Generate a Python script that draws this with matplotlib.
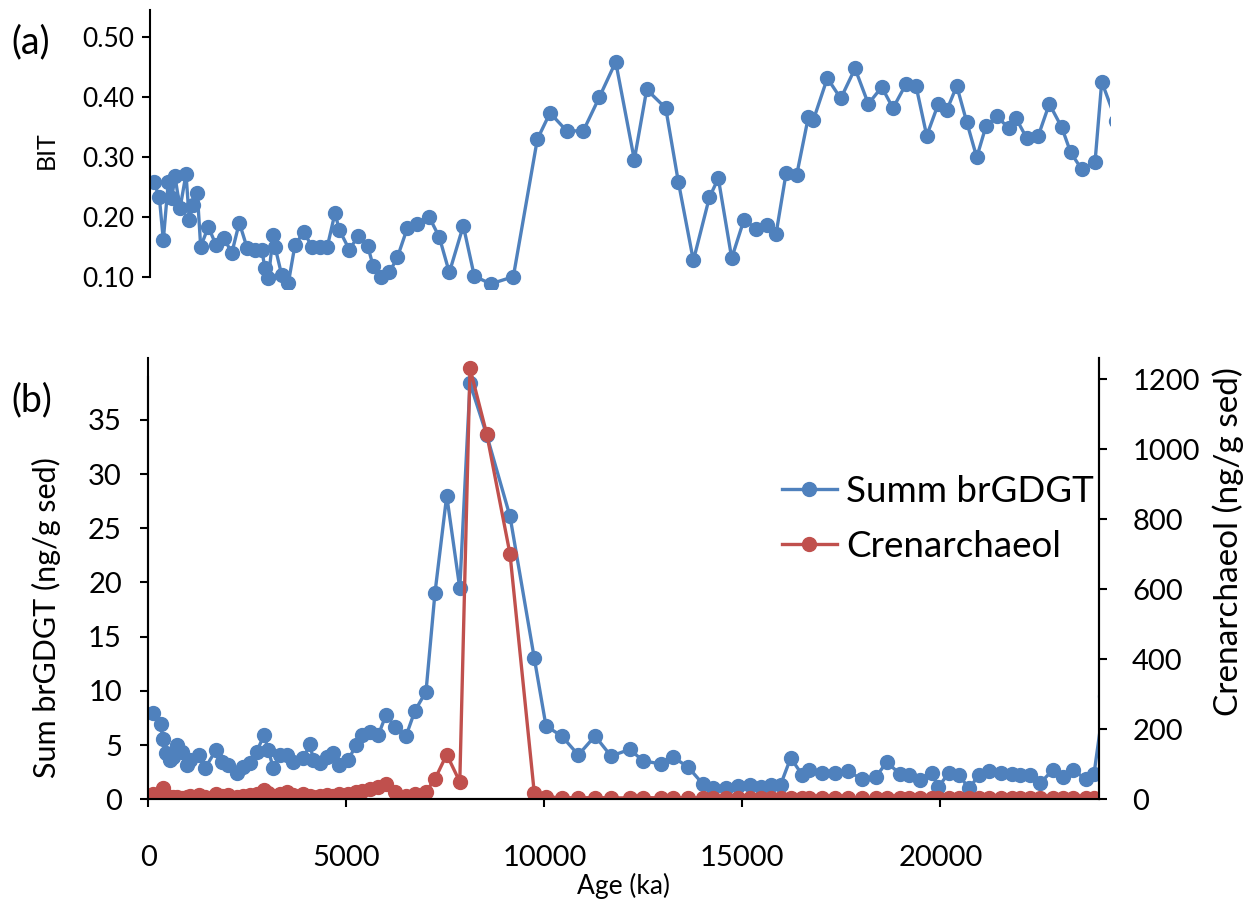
import matplotlib
matplotlib.use('Agg')
import matplotlib.pyplot as plt

plt.rcParams.update({
    'font.family': ['Lato', 'DejaVu Sans'],
    'axes.linewidth': 1.5,
    'xtick.major.width': 1.5,
    'ytick.major.width': 1.5,
    'xtick.major.size': 6,
    'ytick.major.size': 6,
})

BLUE = '#4F81BD'
RED = '#C0504D'

# (a) BIT
bit_age = [101, 235, 336, 462, 548, 631, 758, 909, 992, 1093, 1194, 1280, 1472, 1667,
           1876, 2063, 2255, 2457, 2651, 2820, 2904, 2987, 3113, 3156, 3325, 3492, 3661,
           3889, 4083, 4293, 4477, 4671, 4780, 5033, 5260, 5497, 5639, 5826, 6043, 6245,
           6497, 6750, 7053, 7305, 7558, 7911, 8189, 8603, 9174, 9780, 10100, 10522,
           10941, 11345, 11759, 12229, 12542, 13022, 13341, 13720, 14124, 14350, 14688,
           14999, 15302, 15572, 15807, 16060, 16330, 16623, 16749, 17103, 17441, 17802,
           18138, 18476, 18761, 19089, 19342, 19612, 19905, 20117, 20370, 20622, 20875,
           21109, 21380, 21698, 21867, 22137, 22430, 22708, 23021, 23248, 23526, 23862,
           24031, 24400]
bit = [0.258, 0.234, 0.162, 0.259, 0.232, 0.268, 0.215, 0.272, 0.196, 0.221, 0.241,
       0.151, 0.184, 0.154, 0.165, 0.140, 0.191, 0.148, 0.146, 0.146, 0.115, 0.098,
       0.171, 0.151, 0.104, 0.090, 0.154, 0.176, 0.151, 0.151, 0.151, 0.207, 0.179,
       0.146, 0.169, 0.152, 0.118, 0.100, 0.108, 0.133, 0.182, 0.189, 0.200, 0.167,
       0.108, 0.186, 0.102, 0.089, 0.101, 0.330, 0.374, 0.344, 0.344, 0.400, 0.459,
       0.296, 0.413, 0.382, 0.259, 0.128, 0.233, 0.265, 0.132, 0.196, 0.181, 0.187,
       0.172, 0.273, 0.271, 0.367, 0.362, 0.432, 0.398, 0.448, 0.389, 0.417, 0.382,
       0.422, 0.419, 0.336, 0.389, 0.378, 0.419, 0.359, 0.300, 0.352, 0.368, 0.348,
       0.365, 0.332, 0.336, 0.389, 0.350, 0.308, 0.280, 0.292, 0.426, 0.360]

# (b) concentrations
age = [126, 313, 364, 447, 548, 631, 717, 843, 970, 1053, 1288, 1432, 1709, 1853, 2020,
       2232, 2399, 2568, 2737, 2922, 3030, 3156, 3325, 3495, 3661, 3914, 4083, 4166,
       4335, 4505, 4656, 4823, 5050, 5244, 5388, 5598, 5808, 6002, 6229, 6507, 6734,
       7012, 7239, 7535, 7865, 8123, 8545, 9133, 9747, 10042, 10438, 10858, 11280,
       11683, 12163, 12484, 12938, 13241, 13635, 14006, 14266, 14587, 14890, 15193,
       15470, 15723, 15963, 16221, 16506, 16678, 17003, 17327, 17675, 18013, 18362,
       18645, 18968, 19208, 19475, 19781, 19940, 20218, 20470, 20723, 20975, 21228,
       21531, 21796, 22018, 22263, 22523, 22836, 23089, 23356, 23672, 23879, 24150]
brgdgt = [7.93, 6.95, 5.53, 4.24, 3.63, 3.93, 5.0, 4.39, 3.16, 3.63, 4.09, 2.86, 4.55,
          3.47, 3.16, 2.40, 3.01, 3.32, 4.39, 5.93, 4.55, 2.86, 4.09, 4.09, 3.47, 3.78,
          5.10, 3.63, 3.32, 3.93, 4.24, 3.16, 3.63, 5.0, 5.93, 6.24, 5.93, 7.78, 6.70,
          5.84, 8.18, 9.93, 19.06, 28.0, 19.46, 38.38, 33.6, 26.1, 13.0, 6.76, 5.84,
          4.09, 5.84, 3.99, 4.61, 3.56, 3.26, 3.93, 2.95, 1.40, 1.08, 1.01, 1.20, 1.30,
          1.16, 1.32, 1.32, 3.82, 2.28, 2.67, 2.45, 2.40, 2.60, 1.85, 2.03, 3.42, 2.38,
          2.20, 1.78, 2.45, 1.10, 2.45, 2.24, 1.00, 2.24, 2.64, 2.45, 2.33, 2.24, 2.24,
          1.50, 2.70, 2.09, 2.70, 1.85, 2.33, 9.5]
cren = [14, 8, 31, 10, 8, 6, 8, 5, 6, 10, 12, 6, 14, 10, 12, 6, 10, 12, 14, 26, 18, 10,
        14, 20, 12, 14, 10, 8, 10, 12, 10, 14, 16, 20, 25, 30, 36, 44, 22, 10, 16, 22, 58,
        128, 50, 1231, 1044, 701, 17, 6, 5, 4, 5, 4, 4, 5, 4, 5, 4, 4, 5, 4, 4, 5, 4, 4,
        5, 4, 4, 5, 4, 4, 5, 4, 4, 5, 4, 4, 5, 4, 4, 5, 4, 4, 5, 4, 4, 5, 4, 4, 5, 4, 4,
        5, 4, 4, 4]

x_ticks = [0, 5000, 10000, 15000, 20000]
bit_ticks = [0.10, 0.20, 0.30, 0.40, 0.50]
left_ticks = [0, 5, 10, 15, 20, 25, 30, 35]
right_ticks = [0, 200, 400, 600, 800, 1000, 1200]

W, H = 1251, 909
fig = plt.figure(figsize=(W / 100, H / 100), dpi=100)

line_kw = dict(marker='o', markersize=10, linewidth=2.4, clip_on=True)

# ---- panel (a)
ax_a = fig.add_axes([150 / W, 1 - 289.3 / H, 960 / W, 279 / H])
ax_a.plot(bit_age, bit, color=BLUE, **line_kw)
ax_a.set_xlim(0, 24240)
ax_a.set_ylim(0.08, 0.545)
for s in ('top', 'right', 'bottom'):
    ax_a.spines[s].set_visible(False)
ax_a.spines['left'].set_bounds(0.10, 0.545)
ax_a.set_xticks([])
ax_a.set_yticks(bit_ticks)
ax_a.set_yticklabels([f'{t:.2f}' for t in bit_ticks], fontsize=19)
ax_a.tick_params(axis='y', pad=5)
ax_a.set_ylabel('BIT', fontsize=18, labelpad=18)

# ---- panel (b)
ax_b = fig.add_axes([148.3 / W, 1 - 799.3 / H, 950.5 / W, 441.3 / H])
ax_r = ax_b.twinx()
ax_b.plot(age, brgdgt, color=BLUE, label='Summ brGDGT', **line_kw)
ax_r.plot(age, cren, color=RED, label='Crenarchaeol', **line_kw)
ax_b.set_xlim(0, 24000)
ax_b.set_ylim(0, 40.71)
ax_r.set_ylim(0, 1261)
ax_b.spines['top'].set_visible(False)
ax_r.spines['top'].set_visible(False)
ax_b.spines['left'].set_bounds(0, 39)
ax_b.set_xticks(x_ticks)
ax_b.set_xticklabels([str(t) for t in x_ticks], fontsize=21)
ax_b.tick_params(axis='x', pad=27)
ax_b.set_yticks(left_ticks)
ax_b.set_yticklabels([str(t) for t in left_ticks], fontsize=21)
ax_b.tick_params(axis='y', pad=13)
ax_r.set_yticks(right_ticks)
ax_r.set_yticklabels([str(t) for t in right_ticks], fontsize=21)
ax_r.tick_params(axis='y', pad=18)
ax_b.set_xlabel('Age (ka)', fontsize=19, labelpad=1)
ax_b.set_ylabel('Sum brGDGT (ng/g sed)', fontsize=22)
ax_r.set_ylabel('Crenarchaeol (ng/g sed)', fontsize=24)
ax_b.yaxis.set_label_coords((61 - 148.3) / 950.5, (799.3 - 618) / 441.3)
ax_r.yaxis.set_label_coords((1212 - 148.3) / 950.5, (799.3 - 542) / 441.3)

h1, l1 = ax_b.get_legend_handles_labels()
h2, l2 = ax_r.get_legend_handles_labels()
ax_r.legend(h1 + h2, l1 + l2, loc='upper left', bbox_to_anchor=(767 / W, 1 - 460 / H),
            bbox_transform=fig.transFigure, frameon=False, fontsize=26.5,
            handlelength=1.5, handletextpad=0.25, labelspacing=0.6, borderaxespad=0)

fig.text(11 / W, 1 - 42 / H, '(a)', fontsize=27, va='center')
fig.text(11 / W, 1 - 400 / H, '(b)', fontsize=27, va='center')

fig.savefig('out.png', dpi=100)
